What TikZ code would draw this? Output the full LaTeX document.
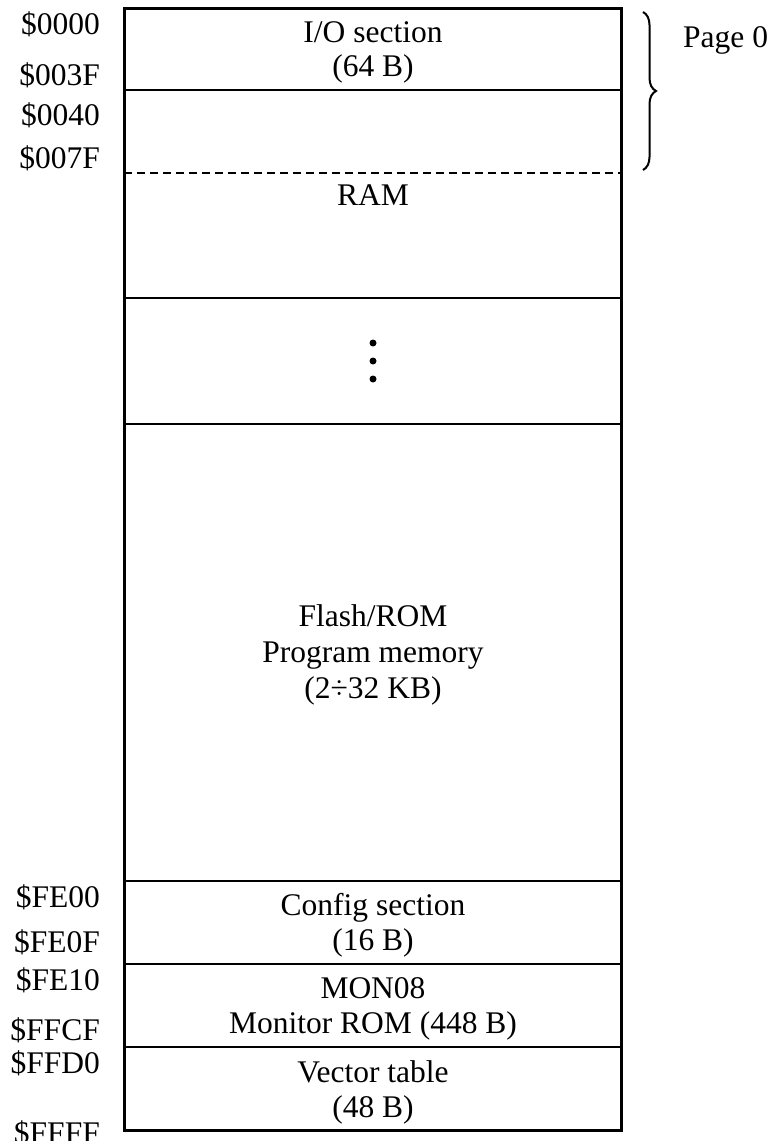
\documentclass[tikz,border=0pt]{standalone}
\usepackage{fontspec}
\setmainfont{Liberation Serif}
\usetikzlibrary{decorations.pathreplacing}
\begin{document}
\begin{tikzpicture}[x=1pt,y=-1pt,
  txt/.style={font=\fontsize{31.5}{35}\selectfont, inner sep=0pt, anchor=base},
  addr/.style={font=\fontsize{31.5}{35}\selectfont, inner sep=0pt, anchor=base east},
  frame/.style={line width=3pt},
  divider/.style={line width=2pt},
  boundary/.style={line width=1.5pt, dash pattern=on 8pt off 5pt},
  dot/.style={circle, fill=black, inner sep=0pt, minimum size=7pt}]
\useasboundingbox (0,0) rectangle (782,1141);

% memory block outline and section dividers
\draw[frame] (124,8) rectangle (621,1130);
\draw[divider] (124,90) -- (621,90);
\draw[boundary] (124,173) -- (621,173);
\draw[divider] (124,298) -- (621,298);
\draw[divider] (124,424) -- (621,424);
\draw[divider] (124,881) -- (621,881);
\draw[divider] (124,964) -- (621,964);
\draw[divider] (124,1047) -- (621,1047);

% section contents
\node[txt] (io1) at (373,42) {I/O section};
\node[txt] (io2) at (373,76) {(64 B)};
\node[txt] (ram) at (373,205) {RAM};
\node[dot] (d1) at (373,343) {};
\node[dot] (d2) at (373,361) {};
\node[dot] (d3) at (373,379) {};
\node[txt] (fl1) at (373,626) {Flash/ROM};
\node[txt] (fl2) at (373,662) {Program memory};
\node[txt] (fl3) at (373,698) {(2÷32 KB)};
\node[txt] (cf1) at (373,915) {Config section};
\node[txt] (cf2) at (373,950) {(16 B)};
\node[txt] (mn1) at (373,998) {MON08};
\node[txt] (mn2) at (373,1033) {Monitor ROM (448 B)};
\node[txt] (vt1) at (373,1082) {Vector table};
\node[txt] (vt2) at (373,1117) {(48 B)};

% addresses
\node[addr] (a0000) at (100,34) {\$0000};
\node[addr] (a003F) at (100,85) {\$003F};
\node[addr] (a0040) at (100,125) {\$0040};
\node[addr] (a007F) at (100,168) {\$007F};
\node[addr] (aFE00) at (100,907) {\$FE00};
\node[addr] (aFE0F) at (100,952) {\$FE0F};
\node[addr] (aFE10) at (100,990) {\$FE10};
\node[addr] (aFFCF) at (100,1040) {\$FFCF};
\node[addr] (aFFD0) at (100,1073) {\$FFD0};
\node[addr] (aFFFF) at (100,1143) {\$FFFF};

% page zero brace
\coordinate (bt) at (643,12);
\coordinate (bb) at (643,170);
\draw[decorate, decoration={brace, amplitude=13pt}, line width=2pt] (bt) -- (bb);
\node[txt, anchor=base west] (page0) at (683,47) {Page 0};
\end{tikzpicture}
\end{document}
